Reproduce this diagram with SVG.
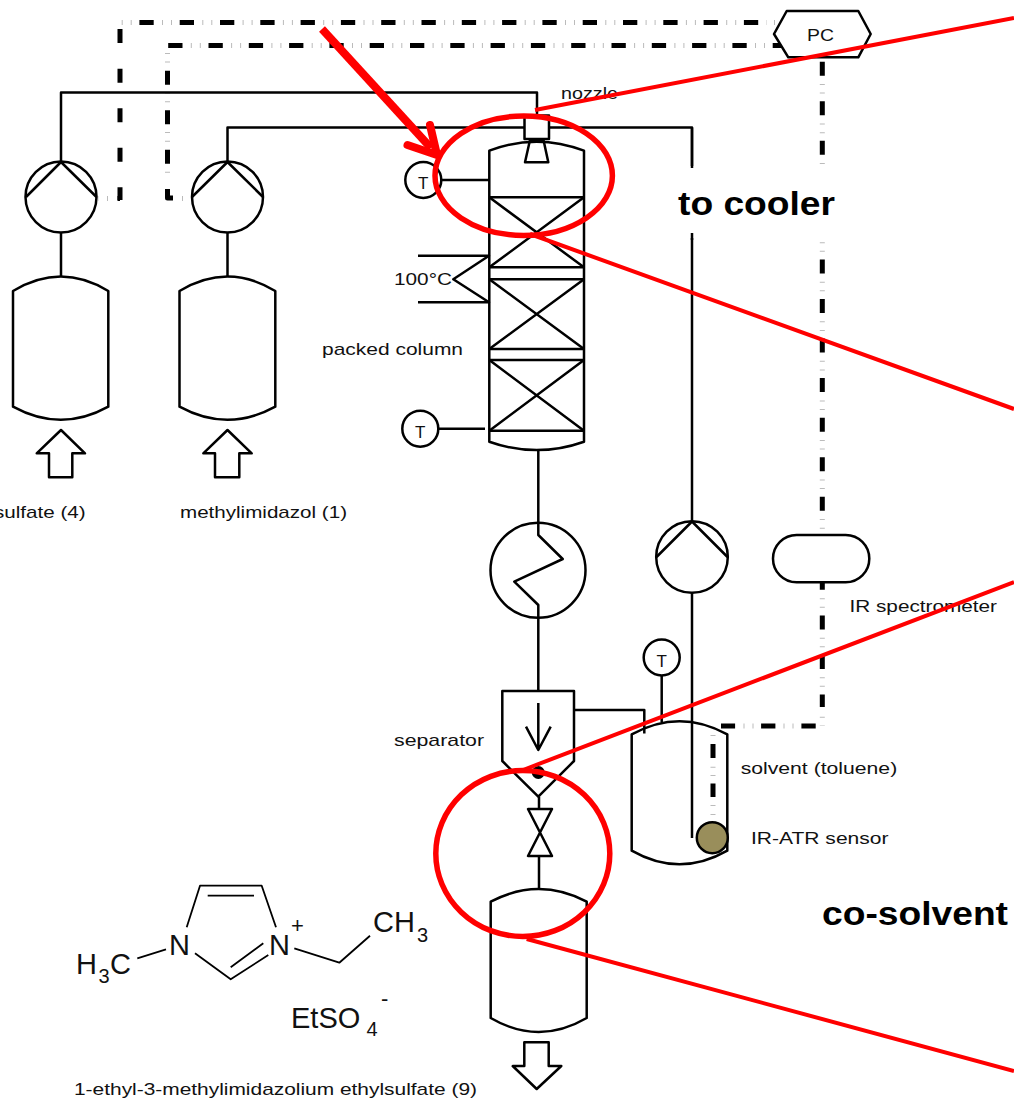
<svg xmlns="http://www.w3.org/2000/svg" width="1014" height="1099" viewBox="0 0 1014 1099">
<style>
.l{fill:none;stroke:#000;stroke-width:2.5;stroke-linejoin:round}
.w{fill:#fff;stroke:#000;stroke-width:2.5;stroke-linejoin:round}
.b{fill:none;stroke:#000;stroke-width:1.8;stroke-linejoin:round}
.dh{fill:none;stroke:#000;stroke-width:5;stroke-dasharray:14.3 26}
.dv{fill:none;stroke:#000;stroke-width:5;stroke-dasharray:14 25.55}
.th{fill:none;stroke:#bbb;stroke-width:5;stroke-dasharray:1 8 1 30.3}
.tv{fill:none;stroke:#bbb;stroke-width:5;stroke-dasharray:1 7.6 1 29.95}
.r{fill:none;stroke:#f00;stroke-width:4}
.re{fill:none;stroke:#f00;stroke-width:5.5}
text{font-family:"Liberation Sans",Arial,sans-serif;fill:#111}
.t{font-size:17px}
.c{font-size:17px;text-anchor:middle}
.h{font-size:33px;font-weight:bold;fill:#000}
.m{font-size:29px}
.s{font-size:20px}
</style>
<rect width="1014" height="1099" fill="#fff"/>
<g id="connectors">
  <g id="control-lines">
    <path class="dh" d="M758.2 22.5H120"/>
    <path class="th" d="M736.2 22.5H120" stroke-dashoffset="0"/>
    <path class="th" d="M775 22.5H766" style="stroke-dasharray:1 7.6 1"/>
    <path class="dv" d="M120 29.1V200"/>
    <path class="dh" d="M120 198.5H117.5" style="stroke-dasharray:none"/>
    <path class="th" d="M108 198.5H98" style="stroke-dasharray:1 8.6 1"/>
    <path class="dh" d="M787 45.5H168"/>
    <path class="th" d="M765 45.5H168"/>
    <path class="dv" d="M167.5 70.7V180"/>
    <path class="tv" d="M167.5 53V180"/>
    <path class="l" d="M167.5 189V198H173" style="stroke-width:5"/>
    <path class="th" d="M182 198.5H183" style="stroke-dasharray:none"/>
    <path class="dv" d="M822.3 61.7V707"/>
    <path class="tv" d="M822.3 84V726"/>
    <path class="dh" d="M815.7 726H721"/>
    <path class="th" d="M793.5 726H740" style="stroke-dasharray:1 8 1 30"/>
    <path class="dv" d="M713 744V797"/>
    <path class="tv" d="M713 735V815" style="stroke-dasharray:1 30.7 1 7.3 1 29 1 8"/>
  </g>
  <g id="process-lines">
    <path class="l" d="M61 162V92.5H537V115"/>
    <path class="l" d="M227.5 162V127.5H524.5M549 127.5H692V522"/>
    <path class="l" d="M692 593V838"/>
    <path class="l" d="M538.3 450V535L562.7 559L514.3 581.7L538.3 605V691"/>
    <path class="l" d="M61 232.5V276.7M227.5 232.5V276.7"/>
    <path class="l" d="M539 796.7V809M539 856V889"/>
    <path class="l" d="M574 710H644.3V733.5"/>
    <path class="l" d="M661.7 675.5V722"/>
    <path class="l" d="M441 180H489M438 428.7H485"/>
  </g>
</g>
<g id="cover"><rect x="672" y="166" width="166" height="72" fill="#fff"/>
  <path class="l" d="M692 127.5V168M692 233V240"/></g>
<g id="pc"><path class="w" d="M774 34L786.7 11H858.3L870.7 34L858.3 57.3H788.3Z"/><text class="t" x="807" y="41" textLength="27" lengthAdjust="spacingAndGlyphs">PC</text></g>
<g id="pump-1"><circle class="w" cx="61" cy="197" r="35.5"/><path class="l" d="M26 197L61 162L96.5 197"/></g>
<g id="pump-2"><circle class="w" cx="227.5" cy="197" r="35.5"/><path class="l" d="M192 197L227.5 162L263 197"/></g>
<g id="pump-3"><circle class="w" cx="692" cy="557" r="35.8"/><path class="l" d="M656.5 557L692 521.5L727.5 557"/></g>
<g id="tank-1"><path class="w" d="M13 291Q61 262 108.3 291V406.7Q61 433 13 406.7Z"/></g>
<g id="tank-2"><path class="w" d="M179.5 291Q227.5 262 275.3 291V406.7Q227.5 433 179.5 406.7Z"/></g>
<g id="feed-arrow-1"><path class="w" d="M61 430L85 453.3H72.3V477.3H49V453.3H36.7Z"/></g>
<g id="feed-arrow-2"><path class="w" d="M227.5 430L251.7 453.3H239.3V477.3H215V453.3H203.3Z"/></g>
<g id="column">
  <path class="l" d="M489.3 150.7Q536.7 132.7 584 150.7V441.7Q536.7 458.5 489.3 441.7Z"/>
  <path class="l" d="M489.3 197.3H584M489.3 267.3H584M489.3 279.3H584M489.3 349H584M489.3 360H584M489.3 430.7H584"/>
  <path class="l" d="M489.3 197.3L584 267.3M584 197.3L489.3 267.3M489.3 279.3L584 349M584 279.3L489.3 349M489.3 360L584 430.7M584 360L489.3 430.7"/>
</g>
<g id="nozzle"><rect class="w" x="524.5" y="115.5" width="24.5" height="23.5"/><path class="l" d="M530 140H543.5L548.3 162.3H525Z"/></g>
<g id="heater"><path class="l" d="M418 255.7H489L453.3 279.3L489 302.3H418"/></g>
<g id="t-1"><circle class="w" cx="423.3" cy="180" r="18"/><text class="c" x="423.3" y="189">T</text></g>
<g id="t-2"><circle class="w" cx="420.3" cy="428.7" r="18"/><text class="c" x="420.3" y="438">T</text></g>
<g id="t-3"><circle class="w" cx="661.7" cy="657.5" r="18"/><text class="c" x="661.7" y="667">T</text></g>
<g id="cooler"><circle class="l" cx="538" cy="570.3" r="47.5"/></g>
<g id="separator">
  <path class="w" d="M502.3 691H574V761L538.3 796.7L502.3 761Z"/>
  <path class="l" d="M538.3 703V750M526 726.7L538.3 750L550.7 726.7"/>
  <circle cx="538.3" cy="772.5" r="6.5" fill="#000"/>
</g>
<g id="valve"><path class="w" d="M528 809H552L528 856H552Z"/></g>
<g id="product-tank"><path class="w" d="M490.7 901.7Q538.7 876.5 586.7 901.7V1018Q538.7 1046 490.7 1018Z"/></g>
<g id="product-arrow"><path class="w" d="M524.3 1042.3H548.7V1066H561.3L536.7 1089L512.7 1066H524.3Z"/></g>
<g id="solvent-tank"><path class="l" d="M631.7 734.3Q679.5 708 727.3 734.3V850.7Q679.5 878 631.7 850.7Z"/></g>
<g id="ir-atr-sensor"><circle cx="712.3" cy="837.7" r="15.5" fill="#998e5b" stroke="#000" stroke-width="2.5"/></g>
<g id="ir-spectrometer"><rect class="w" x="773" y="535" width="96.3" height="47.3" rx="23.6" ry="23.6"/></g>
<g id="labels">
  <text class="t" x="-6" y="518" textLength="91.6" lengthAdjust="spacingAndGlyphs">sulfate (4)</text>
  <text class="t" x="180" y="518" textLength="167" lengthAdjust="spacingAndGlyphs">methylimidazol (1)</text>
  <text class="t" x="561" y="99" textLength="57" lengthAdjust="spacingAndGlyphs">nozzle</text>
  <text class="t" x="394" y="285" textLength="58" lengthAdjust="spacingAndGlyphs">100°C</text>
  <text class="t" x="322" y="355" textLength="141" lengthAdjust="spacingAndGlyphs">packed column</text>
  <text class="t" x="394" y="745.7" textLength="90" lengthAdjust="spacingAndGlyphs">separator</text>
  <text class="t" x="740.7" y="774.3" textLength="156.5" lengthAdjust="spacingAndGlyphs">solvent (toluene)</text>
  <text class="t" x="751" y="844.3" textLength="137.5" lengthAdjust="spacingAndGlyphs">IR-ATR sensor</text>
  <text class="t" x="849.5" y="611.7" textLength="147.5" lengthAdjust="spacingAndGlyphs">IR spectrometer</text>
  <text class="t" x="74" y="1095" textLength="403" lengthAdjust="spacingAndGlyphs">1-ethyl-3-methylimidazolium ethylsulfate (9)</text>
  <text class="h" x="678" y="215" textLength="157" lengthAdjust="spacingAndGlyphs">to cooler</text>
  <text class="h" x="822" y="925" textLength="186" lengthAdjust="spacingAndGlyphs">co-solvent</text>
</g>
<g id="molecule">
  <path class="b" d="M137.3 958.3L166 949.3M186.7 927.3L200 885.7H261.7L276 927.3M207.7 895.7H254M195 953.3L230.7 979.3L268.3 955M230.7 967.3L263.3 943.3M294.3 948.3L339.3 962.7L370 935.7"/>
  <text class="m" x="76" y="974">H</text><text class="s" x="98.5" y="983">3</text><text class="m" x="110" y="974">C</text>
  <text class="m" x="169" y="955">N</text>
  <text class="m" x="269" y="955">N</text><text x="291" y="933" style="font-size:22px">+</text>
  <text class="m" x="373" y="932.3">CH</text><text class="s" x="417" y="942">3</text>
  <text class="m" x="291" y="1028">EtSO</text><text class="s" x="366.5" y="1036">4</text><text x="381" y="1006" style="font-size:22px">-</text>
</g>
<g id="red-annotations">
  <path d="M322 29L431 148" fill="none" stroke="#f00" stroke-width="8"/>
  <path d="M407.5 145L437 155L430 125" fill="none" stroke="#f00" stroke-width="8" stroke-linecap="round" stroke-linejoin="round"/>
  <ellipse class="re" cx="523.7" cy="175.7" rx="88.7" ry="59.7"/>
  <ellipse class="re" cx="522.8" cy="853.5" rx="87" ry="83"/>
  <path class="r" d="M535 110L1014 18M530 234L1014 409M523 770L1014 582M526.7 939L1014 1071"/>
</g>
</svg>
